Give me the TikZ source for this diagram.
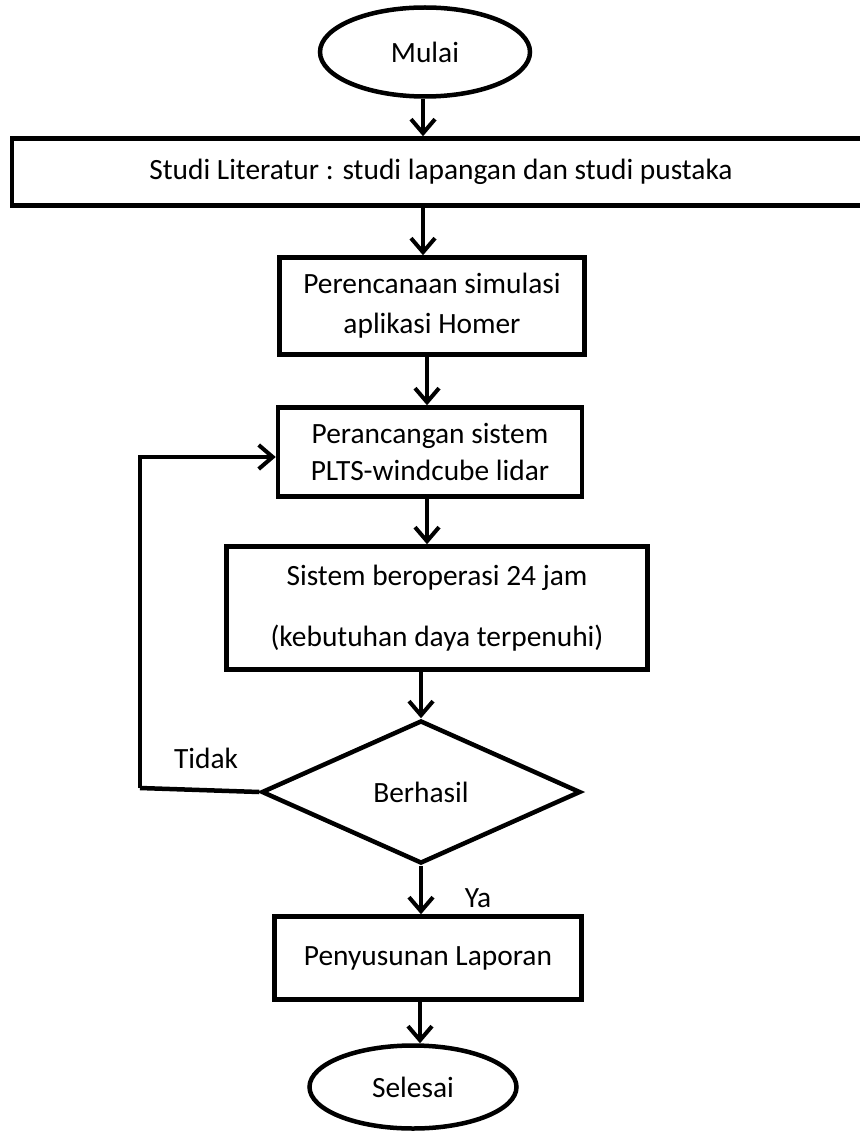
\documentclass[tikz,border=0pt]{standalone}
\usepackage{fontspec}
\setmainfont{Carlito}
\usetikzlibrary{shapes.geometric,arrows.meta}
\begin{document}
\begin{tikzpicture}[x=1pt,y=-1pt,
  every node/.style={font=\fontsize{29.4}{35}\selectfont},
  box/.style={draw,line width=4.5pt,rectangle,inner sep=0pt,align=center},
  term/.style={draw,line width=4.5pt,ellipse,inner sep=0pt},
  dec/.style={draw,line width=4.5pt,diamond,inner sep=0pt},
  arr/.style={line width=4.5pt,-{Straight Barb[length=14pt,width=24pt,line width=4pt]}},
  conn/.style={line width=4.5pt}]
\useasboundingbox (0,0) rectangle (859,1131);
\node[term,minimum width=210pt,minimum height=89pt] (start) at (425,52) {Mulai};
\node[box,minimum width=858pt,minimum height=67pt] (b1) at (441,172) {Studi Literatur : studi lapangan dan studi pustaka};
\node[box,minimum width=305pt,minimum height=97pt] (b2) at (432,306) {Perencanaan simulasi\\[5pt]aplikasi Homer};
\node[box,minimum width=304pt,minimum height=89pt] (b3) at (430,452) {Perancangan sistem\\[2pt]PLTS-windcube lidar};
\node[box,minimum width=421pt,minimum height=123pt] (b4) at (437,608) {Sistem beroperasi 24 jam\\[26pt](kebutuhan daya terpenuhi)};
\node[dec,minimum width=319pt,minimum height=143pt] (d) at (421,792) {Berhasil};
\node[box,minimum width=307pt,minimum height=83pt] (b5) at (428,958) {Penyusunan Laporan};
\node[term,minimum width=207pt,minimum height=83pt] (end) at (413,1087) {Selesai};
\node (tidak) at (206,758) {Tidak};
\node (ya) at (478,898) {Ya};
\coordinate (lc) at (140,788);
\draw[arr] (start.south -| 423,0) -- (b1.north -| 423,0);
\draw[arr] (b1.south -| 423,0) -- (b2.north -| 423,0);
\draw[arr] (b2.south -| 427,0) -- (b3.north -| 427,0);
\draw[arr] (b3.south -| 427,0) -- (b4.north -| 427,0);
\draw[arr] (b4.south -| d.north) -- (d.north);
\draw[arr] (d.south) -- (b5.north -| d.south);
\draw[arr] (b5.south -| 420,0) -- (end.north -| 420,0);
\draw[conn] (d.west) -- (lc);
\draw[arr] (lc) |- ([yshift=-5pt]b3.west);
\end{tikzpicture}
\end{document}
